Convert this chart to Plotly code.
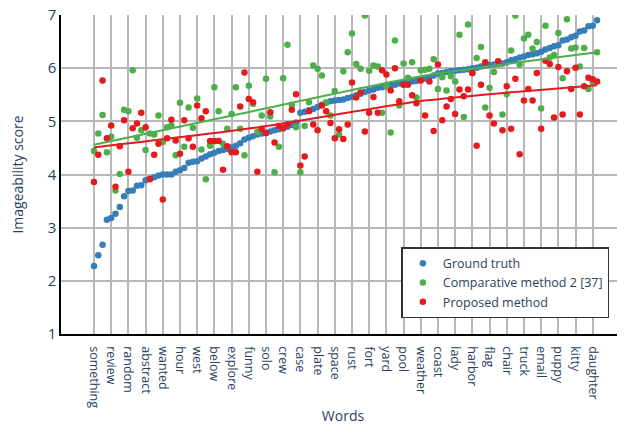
import plotly.graph_objects as go

tick_words = ["something", "review", "random", "abstract", "wanted", "hour", "west", "below",
              "explore", "funny", "solo", "crew", "case", "plate", "space", "rust", "fort", "yard",
              "pool", "weather", "coast", "lady", "harbor", "flag", "chair", "truck", "email",
              "puppy", "kitty", "daughter"]
tick_positions = [4 * k for k in range(len(tick_words))]

ground_truth = [2.28, 2.48, 2.68, 3.15, 3.18, 3.26, 3.39, 3.59, 3.69, 3.70,
                3.79, 3.80, 3.89, 3.92, 3.95, 3.98, 4.00, 4.00, 4.00, 4.05,
                4.08, 4.12, 4.22, 4.24, 4.25, 4.30, 4.34, 4.38, 4.41, 4.44,
                4.46, 4.48, 4.51, 4.54, 4.59, 4.66, 4.69, 4.72, 4.75, 4.77,
                4.78, 4.81, 4.83, 4.85, 4.87, 4.90, 4.93, 4.98, 5.16, 5.18,
                5.21, 5.23, 5.27, 5.31, 5.35, 5.38, 5.39, 5.40, 5.41, 5.44,
                5.46, 5.49, 5.52, 5.55, 5.58, 5.60, 5.63, 5.64, 5.66, 5.68,
                5.69, 5.71, 5.72, 5.73, 5.75, 5.76, 5.78, 5.80, 5.83, 5.86,
                5.90, 5.91, 5.93, 5.94, 5.95, 5.96, 5.97, 5.98, 6.00, 6.01,
                6.03, 6.05, 6.06, 6.07, 6.08, 6.09, 6.11, 6.15, 6.17, 6.20,
                6.22, 6.25, 6.26, 6.28, 6.31, 6.35, 6.38, 6.41, 6.43, 6.52,
                6.54, 6.58, 6.61, 6.69, 6.71, 6.79, 6.80, 6.90]

comparative_method_2 = [4.44, 4.77, 5.12, 4.42, 4.71, 3.70, 4.01, 5.22, 5.19, 5.96,
                        4.69, 4.83, 4.46, 4.77, 4.75, 5.11, 4.61, 4.89, 4.92, 4.36,
                        5.35, 4.52, 5.26, 4.88, 5.43, 4.47, 3.91, 4.54, 5.64, 5.19,
                        4.58, 4.86, 5.14, 5.64, 4.86, 4.36, 5.67, 5.33, 4.80, 5.11,
                        5.80, 5.09, 4.04, 4.52, 5.81, 6.44, 5.31, 4.89, 4.04, 4.91,
                        5.36, 6.05, 5.99, 5.86, 5.36, 5.11, 5.57, 4.75, 5.94, 6.30,
                        6.65, 6.08, 5.99, 6.99, 5.95, 6.05, 6.03, 5.16, 5.66, 4.79,
                        6.52, 5.30, 6.09, 5.82, 6.11, 5.45, 5.96, 5.97, 5.99, 6.17,
                        5.61, 5.83, 5.58, 5.85, 5.75, 6.63, 5.08, 6.82, 5.91, 6.19,
                        6.40, 5.26, 5.63, 5.93, 6.08, 5.13, 5.51, 6.33, 6.99, 6.07,
                        6.56, 6.63, 6.37, 6.49, 5.24, 6.80, 6.20, 6.25, 6.66, 5.81,
                        6.92, 6.37, 6.39, 6.03, 6.38, 5.61, 5.74, 6.30]

proposed_method = [3.86, 4.37, 5.77, 4.68, 4.92, 3.77, 4.53, 5.02, 4.05, 4.87,
                   4.96, 5.16, 4.89, 3.91, 4.37, 4.58, 3.53, 4.68, 5.03, 4.64,
                   4.39, 5.02, 4.68, 4.52, 5.30, 5.06, 5.19, 4.63, 4.63, 4.63,
                   4.09, 4.53, 4.42, 4.42, 5.28, 5.92, 5.42, 5.36, 4.05, 4.86,
                   4.78, 5.17, 4.60, 4.91, 4.87, 4.94, 5.22, 5.51, 4.17, 4.34,
                   5.19, 4.94, 4.83, 5.30, 5.19, 4.97, 4.68, 4.85, 4.67, 4.94,
                   5.73, 5.45, 5.54, 4.81, 5.16, 5.46, 5.16, 5.96, 5.88, 5.58,
                   6.00, 5.38, 5.69, 5.69, 5.49, 5.34, 5.77, 5.11, 5.75, 4.82,
                   6.07, 5.02, 5.28, 5.42, 5.14, 5.60, 5.47, 5.60, 5.91, 4.54,
                   5.69, 6.11, 5.11, 4.96, 6.13, 4.83, 5.66, 4.86, 5.80, 4.38,
                   5.39, 5.61, 5.39, 5.91, 4.86, 6.14, 6.08, 5.07, 6.02, 5.13,
                   5.94, 5.61, 6.01, 5.13, 5.66, 5.82, 5.79, 5.75]

trend_x = [0, 37.4, 77, 117]
comparative_trend = [4.56, 5.20, 5.86, 6.30]
proposed_trend = [4.51, 4.88, 5.39, 5.68]

word_index = list(range(len(ground_truth)))

BLUE = "#377eb8"
GREEN = "#4daf4a"
RED = "#e41a1c"
FONT_COLOR = "#2a3f5f"

fig = go.Figure()
fig.add_trace(go.Scatter(x=word_index, y=ground_truth, mode="markers", name="Ground truth",
                         marker=dict(color=BLUE, size=6.5)))
fig.add_trace(go.Scatter(x=word_index, y=comparative_method_2, mode="markers",
                         name="Comparative method 2 [37]", marker=dict(color=GREEN, size=6.5)))
fig.add_trace(go.Scatter(x=word_index, y=proposed_method, mode="markers", name="Proposed method",
                         marker=dict(color=RED, size=6.5)))
fig.add_trace(go.Scatter(x=trend_x, y=comparative_trend, mode="lines", showlegend=False,
                         line=dict(color=GREEN, width=2, shape="spline", smoothing=0.6),
                         hoverinfo="skip"))
fig.add_trace(go.Scatter(x=trend_x, y=proposed_trend, mode="lines", showlegend=False,
                         line=dict(color=RED, width=2, shape="spline", smoothing=0.6),
                         hoverinfo="skip"))

fig.update_layout(
    width=625, height=427,
    margin=dict(l=53, r=8, t=6.5, b=101, pad=0),
    paper_bgcolor="white", plot_bgcolor="white",
    font=dict(family="Open Sans, sans-serif", color=FONT_COLOR, size=12),
    showlegend=True,
    legend=dict(x=0.6035, y=0.272, xanchor="left", yanchor="top",
                bgcolor="white", bordercolor="#333333", borderwidth=1.5,
                font=dict(size=12.5), itemsizing="trace", tracegroupgap=0),
)
fig.update_xaxes(
    range=[-7.67, 123.5], automargin=False,
    tickmode="array", tickvals=tick_positions, ticktext=tick_words,
    tickangle=90, tickfont=dict(size=12.5), ticklabelstandoff=8,
    showgrid=True, gridcolor="#b8b8b8", gridwidth=1.8,
    showline=True, linecolor="black", linewidth=1.5,
    zeroline=False, ticks="",
    title=dict(text="Words", font=dict(size=14), standoff=4),
)
fig.update_yaxes(
    range=[1, 7], dtick=1, automargin=False,
    tickfont=dict(size=15), ticklabeloverflow="allow",
    showgrid=True, gridcolor="#b8b8b8", gridwidth=1.8,
    showline=True, linecolor="black", linewidth=1.5,
    zeroline=False, ticks="",
    title=dict(text="Imageability score", font=dict(size=14), standoff=22),
)

fig.write_html("out.html")
